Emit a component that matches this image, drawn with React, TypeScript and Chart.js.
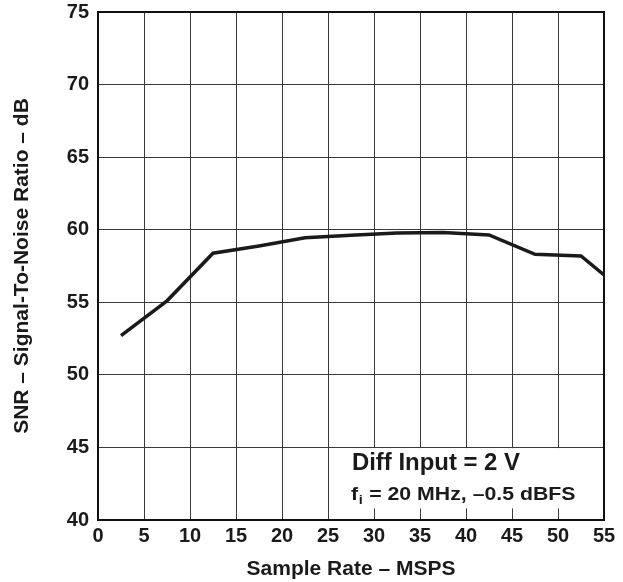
import React, { useEffect, useRef } from "react";
import { Chart, registerables } from "chart.js";

Chart.register(...registerables);

// ---- data ----
const sampleRate = [2.5, 7.5, 12.5, 17.5, 22.5, 27.5, 32.5, 37.5, 42.5, 47.5, 52.5, 55];
const snr = [52.7, 55.1, 58.38, 58.88, 59.45, 59.62, 59.78, 59.8, 59.64, 58.31, 58.19, 56.88];
const xTickValues = [0, 5, 10, 15, 20, 25, 30, 35, 40, 45, 50, 55];
const yTickValues = [40, 45, 50, 55, 60, 65, 70, 75];
const xTitle = "Sample Rate – MSPS";
const yTitle = "SNR – Signal-To-Noise Ratio – dB";
const noteLine1 = "Diff Input = 2 V";
const noteLine2Main = "f";
const noteLine2Sub = "i";
const noteLine2Rest = " = 20 MHz, –0.5 dBFS";

const FONT = '"Liberation Sans", Arial, Helvetica, sans-serif';

const framePlugin = {
  id: "frameAndNote",
  beforeDatasetsDraw(chart: any) {
    const { ctx, chartArea, scales } = chart;
    const xs = scales.x;
    const ys = scales.y;
    ctx.save();
    // white note box
    const bx0 = xs.getPixelForValue(25.8);
    const bx1 = xs.getPixelForValue(53.7);
    const by0 = ys.getPixelForValue(44.95);
    const by1 = ys.getPixelForValue(40.8);
    ctx.fillStyle = "#ffffff";
    ctx.fillRect(bx0, by0, bx1 - bx0, by1 - by0);

    // note text
    ctx.fillStyle = "#1a1a1a";
    ctx.textBaseline = "alphabetic";
    ctx.textAlign = "left";
    const l1x = xs.getPixelForValue(27.6);
    const l1y = ys.getPixelForValue(43.47);
    ctx.save();
    ctx.translate(l1x, l1y);
    ctx.scale(1.04, 1);
    ctx.font = `bold 23px ${FONT}`;
    ctx.fillText(noteLine1, 0, 0);
    ctx.restore();

    const l2x = xs.getPixelForValue(27.5);
    const l2y = ys.getPixelForValue(41.4);
    ctx.save();
    ctx.translate(l2x, l2y);
    ctx.scale(1.12, 1);
    ctx.font = `bold 19px ${FONT}`;
    ctx.fillText(noteLine2Main, 0, 0);
    let w = ctx.measureText(noteLine2Main).width;
    ctx.font = `bold 13px ${FONT}`;
    ctx.fillText(noteLine2Sub, w + 0.5, 4);
    w += ctx.measureText(noteLine2Sub).width + 1;
    ctx.font = `bold 19px ${FONT}`;
    ctx.fillText(noteLine2Rest, w, 0);
    ctx.restore();

    // frame
    ctx.strokeStyle = "#111111";
    ctx.lineWidth = 2;
    ctx.strokeRect(chartArea.left, chartArea.top, chartArea.right - chartArea.left, chartArea.bottom - chartArea.top);
    ctx.restore();
  },
};

export default function App() {
  const canvasRef = useRef<HTMLCanvasElement | null>(null);

  useEffect(() => {
    if (!canvasRef.current) return;
    const chart = new Chart(canvasRef.current, {
      type: "line",
      data: {
        datasets: [
          {
            data: sampleRate.map((x, i) => ({ x, y: snr[i] })),
            borderColor: "#1a1a1a",
            borderWidth: 3.5,
            pointRadius: 0,
            tension: 0,
            fill: false,
          },
        ],
      },
      options: {
        animation: false,
        responsive: false,
        devicePixelRatio: 1,
        layout: { padding: { left: 0, right: 19, top: 12, bottom: 0 } },
        plugins: { legend: { display: false }, tooltip: { enabled: false } },
        scales: {
          x: {
            type: "linear",
            min: 0,
            max: 55,
            afterBuildTicks: (s: any) => {
              s.ticks = xTickValues.map((v) => ({ value: v }));
            },
            afterFit: (s: any) => {
              s.height = 62;
              s.paddingLeft = 0;
              s.paddingRight = 0;
            },
            grid: { color: "#3a3a3a", lineWidth: 1, drawTicks: false },
            border: { display: true, color: "#111111", width: 2 },
            ticks: {
              color: "#1a1a1a",
              padding: 4,
              maxRotation: 0,
              autoSkip: false,
              font: { family: FONT, size: 20, weight: "bold" },
            },
            title: {
              display: true,
              text: xTitle,
              color: "#1a1a1a",
              font: { family: FONT, size: 21, weight: "bold" },
              padding: { top: 0, bottom: 0 },
            },
          },
          y: {
            type: "linear",
            min: 40,
            max: 75,
            afterBuildTicks: (s: any) => {
              s.ticks = yTickValues.map((v) => ({ value: v }));
            },
            afterFit: (s: any) => {
              s.width = 98;
              s.paddingTop = 0;
              s.paddingBottom = 0;
            },
            grid: { color: "#3a3a3a", lineWidth: 1, drawTicks: false },
            border: { display: true, color: "#111111", width: 2 },
            ticks: {
              color: "#1a1a1a",
              padding: 9,
              autoSkip: false,
              font: { family: FONT, size: 20, weight: "bold" },
            },
            title: {
              display: true,
              text: yTitle,
              color: "#1a1a1a",
              font: { family: FONT, size: 21, weight: "bold" },
              padding: { top: 10, bottom: 0 },
            },
          },
        },
      },
      plugins: [framePlugin],
    } as any);
    return () => chart.destroy();
  }, []);

  return (
    <div style={{ position: "absolute", left: 0, top: 0, width: 623, height: 582, background: "#ffffff" }}>
      <canvas ref={canvasRef} width={623} height={582} style={{ display: "block" }} />
    </div>
  );
}
